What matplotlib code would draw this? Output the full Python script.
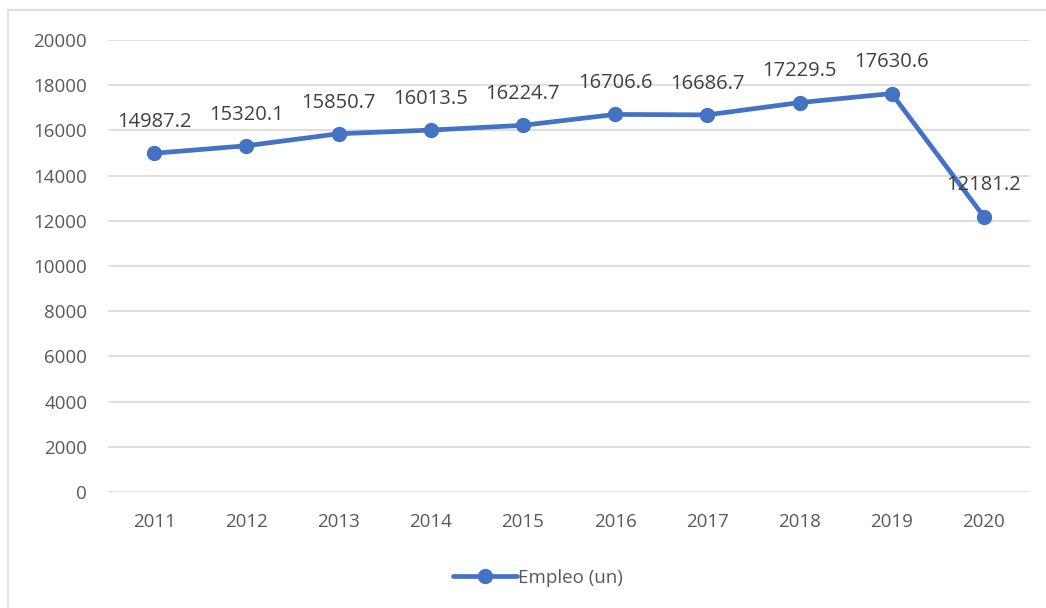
import matplotlib
matplotlib.use("Agg")
import matplotlib.pyplot as plt
from matplotlib.patches import Rectangle

years = ["2011", "2012", "2013", "2014", "2015", "2016", "2017", "2018", "2019", "2020"]
empleo = [14987.2, 15320.1, 15850.7, 16013.5, 16224.7, 16706.6, 16686.7, 17229.5, 17630.6, 12181.2]
yticks = [0, 2000, 4000, 6000, 8000, 10000, 12000, 14000, 16000, 18000, 20000]
series_name = "Empleo (un)"

plt.rcParams['font.family'] = ['Open Sans', 'DejaVu Sans']

fig = plt.figure(figsize=(10.46, 6.08), dpi=100)
fig.patches.append(Rectangle((8/1046, -0.01), 1.0, 1 - 10/608 + 0.01, transform=fig.transFigure,
                             fill=False, edgecolor='#D9D9D9', linewidth=1.2, zorder=0))
ax = fig.add_axes([108/1046, 1 - 492/608, (1030 - 108)/1046, (492 - 40)/608])

x = list(range(len(years)))
color = '#4472C4'
ax.plot(x, empleo, color=color, linewidth=3.4, marker='o', markersize=10,
        solid_capstyle='round', label=series_name, zorder=3)

for xi, v in zip(x, empleo):
    ax.annotate(f"{v:.1f}", (xi, v), xytext=(0, 22.5), textcoords='offset points',
                ha='center', va='center', fontsize=14.5, color='#404040', zorder=4)

ax.set_xlim(-0.5, len(years) - 0.5)
ax.set_ylim(0, 20000)
ax.set_yticks(yticks)
ax.set_yticklabels([str(t) for t in yticks])
ax.set_xticks(x)
ax.set_xticklabels(years)
ax.tick_params(axis='both', length=0, labelsize=13.5, labelcolor='#595959')
ax.tick_params(axis='y', pad=15)
ax.tick_params(axis='x', pad=15)
ax.grid(axis='y', color='#D9D9D9', linewidth=1.2)
ax.set_axisbelow(True)
for s in ax.spines.values():
    s.set_visible(False)

fig.legend(loc='center', bbox_to_anchor=(538/1046, 1 - 578/608), frameon=False,
           fontsize=13.5, labelcolor='#595959', handlelength=3.4, handletextpad=0.1)

fig.savefig("out.png", dpi=100)
